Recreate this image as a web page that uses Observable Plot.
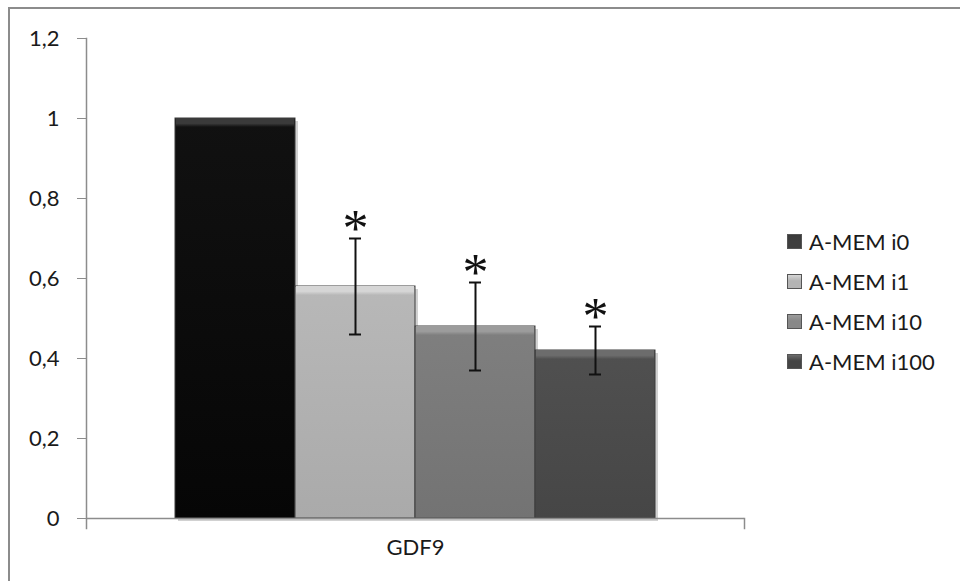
<!DOCTYPE html>
<html>
<head>
<meta charset="utf-8">
<script src="https://cdn.jsdelivr.net/npm/d3@7"></script>
<script src="https://cdn.jsdelivr.net/npm/@observablehq/plot@0.6"></script>
<style>
  html, body { margin: 0; padding: 0; background: #fff; }
  #wrap { position: relative; width: 960px; height: 581px; overflow: hidden; font-family: Lato, "Open Sans", sans-serif; }
  #border { position: absolute; left: 8px; top: 7px; width: 1000px; height: 700px; border-left: 2px solid #8c8c8c; border-top: 2px solid #8c8c8c; }
  #legend { position: absolute; left: 787px; top: 221px; }
  .row { display: flex; align-items: center; height: 40px; font-size: 22px; color: #1a1a1a; }
  .sw { width: 15px; height: 15px; margin-right: 7px; box-sizing: border-box; border: 1px solid #555; }
</style>
</head>
<body>
<div id="wrap"><div id="border"></div><div id="chart"></div><div id="legend"></div></div>
<script>
// ---- data ----
const category = "GDF9";
const series = ["A-MEM i0", "A-MEM i1", "A-MEM i10", "A-MEM i100"];
const values = [1.0, 0.58, 0.48, 0.42];
const errLow = [null, 0.46, 0.37, 0.36];
const errHigh = [null, 0.70, 0.59, 0.48];
const significant = [false, true, true, true];
const yTicks = [0, 0.2, 0.4, 0.6, 0.8, 1.0, 1.2];
// styles
const baseColors = ["#060606", "#aaaaaa", "#737373", "#464646"];
const topColors = ["#111111", "#b8b8b8", "#7f7f7f", "#505050"];
const bevelColors = ["#3a3a3a", "#d6d6d6", "#9c9c9c", "#6c6c6c"];
const swatchColors = ["#3e3e3e", "#b4b4b4", "#888888", "#444444"];

const rows = series.map((s, i) => ({
  series: s, value: values[i], lo: errLow[i], hi: errHigh[i], sig: significant[i], i
}));
const errRows = rows.filter(d => d.hi != null);
const sigRows = rows.filter(d => d.sig);

const W = 960, H = 581, mL = 86, mR = 216, mT = 38, mB = 63;

const plot = Plot.plot({
  width: W, height: H,
  marginLeft: mL, marginRight: mR, marginTop: mT, marginBottom: mB,
  style: { fontFamily: "Lato, 'Open Sans', sans-serif", background: "transparent" },
  x: { type: "band", domain: series, paddingInner: 0, paddingOuter: 0.73, axis: null },
  y: { domain: [0, 1.2], axis: null },
  marks: [
    // drop shadow
    Plot.barY(rows, { x: "series", y: "value", fill: "#000", fillOpacity: 0.18, dx: 3, dy: 3 }),
    // bars
    Plot.barY(rows, { x: "series", y: "value", fill: d => `url(#grad${d.i})`, stroke: "#3c3c3c", strokeWidth: 1 }),
    // top bevel strip
    Plot.barY(rows, { x: "series", y1: "value", y2: "value", insetBottom: -9, insetLeft: 1, insetRight: 1, fill: d => `url(#bev${d.i})` }),
    // axes
    Plot.axisY({ ticks: yTicks, tickSize: 9, tickPadding: 18, stroke: "#8c8c8c", fill: "#1a1a1a", fontSize: 22,
      tickFormat: d => String(+d.toFixed(1)).replace(".", ",") }),
    Plot.frame({ anchor: "left", stroke: "#8c8c8c", strokeWidth: 1.5, insetBottom: -10 }),
    Plot.frame({ anchor: "right", stroke: "#8c8c8c", strokeWidth: 1.5, insetTop: H - mT - mB, insetBottom: -10 }),
    Plot.ruleY([0], { stroke: "#8c8c8c", strokeWidth: 1.5 }),
    // category label
    Plot.text([category], { frameAnchor: "bottom", dy: 36, fontSize: 22, fill: "#1a1a1a" }),
    // error bars
    Plot.ruleX(errRows, { x: "series", y1: "lo", y2: "hi", stroke: "#111", strokeWidth: 2 }),
    Plot.tickY(errRows, { x: "series", y: "hi", stroke: "#111", strokeWidth: 2, insetLeft: 54, insetRight: 54 }),
    Plot.tickY(errRows, { x: "series", y: "lo", stroke: "#111", strokeWidth: 2, insetLeft: 54, insetRight: 54 }),
    // significance asterisks
    Plot.text(sigRows, { x: "series", y: "hi", text: () => "*", fontSize: 52, fontFamily: "'Liberation Serif', serif", lineAnchor: "middle", dy: -9, fill: "#111" })
  ]
});

// gradient defs
const ns = "http://www.w3.org/2000/svg";
const defs = document.createElementNS(ns, "defs");
series.forEach((s, i) => {
  const g = document.createElementNS(ns, "linearGradient");
  g.setAttribute("id", "grad" + i);
  g.setAttribute("x1", "0"); g.setAttribute("y1", "0"); g.setAttribute("x2", "0"); g.setAttribute("y2", "1");
  [[0, topColors[i]], [1, baseColors[i]]].forEach(([o, c]) => {
    const st = document.createElementNS(ns, "stop");
    st.setAttribute("offset", o); st.setAttribute("stop-color", c);
    g.appendChild(st);
  });
  defs.appendChild(g);
  const b = document.createElementNS(ns, "linearGradient");
  b.setAttribute("id", "bev" + i);
  b.setAttribute("x1", "0"); b.setAttribute("y1", "0"); b.setAttribute("x2", "0"); b.setAttribute("y2", "1");
  [[0, bevelColors[i]], [0.6, bevelColors[i]], [1, topColors[i]]].forEach(([o, c]) => {
    const st = document.createElementNS(ns, "stop");
    st.setAttribute("offset", o); st.setAttribute("stop-color", c);
    b.appendChild(st);
  });
  defs.appendChild(b);
});
plot.insertBefore(defs, plot.firstChild);
plot.style.position = "absolute";
plot.style.left = "0"; plot.style.top = "0";
document.getElementById("chart").appendChild(plot);

// legend
const leg = document.getElementById("legend");
series.forEach((s, i) => {
  const row = document.createElement("div");
  row.className = "row";
  const sw = document.createElement("span");
  sw.className = "sw";
  sw.style.background = `linear-gradient(to bottom, ${bevelColors[i]} 0%, ${swatchColors[i]} 45%, ${swatchColors[i]} 100%)`;
  const tx = document.createElement("span");
  tx.textContent = s;
  row.appendChild(sw); row.appendChild(tx);
  leg.appendChild(row);
});
</script>
</body>
</html>
